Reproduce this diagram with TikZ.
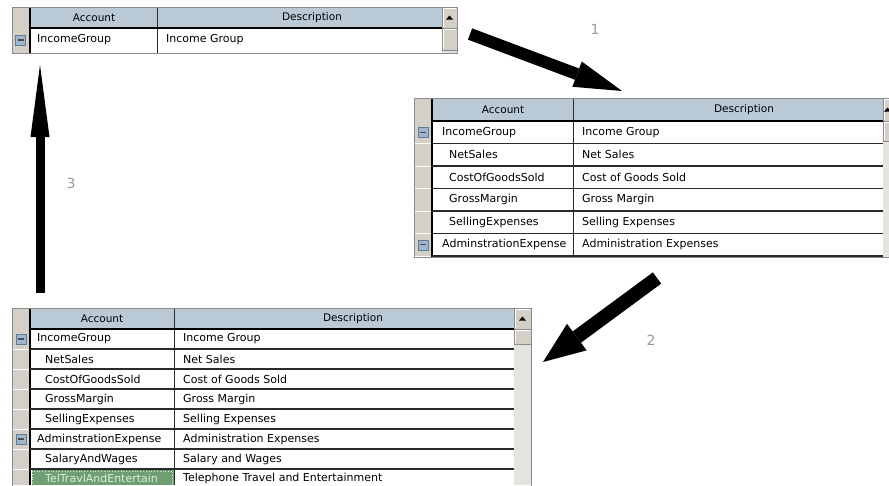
\documentclass[tikz,border=0pt]{standalone}
\usepackage{fontspec}
\setmainfont{DejaVu Sans}
\usetikzlibrary{arrows.meta}
\definecolor{wingray}{HTML}{D4D0C8}
\definecolor{hdrblue}{HTML}{B9C9D6}
\definecolor{trackgray}{HTML}{E4E3DE}
\definecolor{linedark}{HTML}{2A2A2A}
\definecolor{bordergray}{HTML}{8C8C8C}
\definecolor{selgreen}{HTML}{6F9E72}
\definecolor{seltext}{HTML}{DCEFDC}
\definecolor{iconfill}{HTML}{9FB6CC}
\definecolor{iconedge}{HTML}{5E7C99}
\definecolor{numgray}{HTML}{9A9A9A}
\tikzset{
  cellt/.style={anchor=west, inner sep=0pt, font=\fontsize{11}{13}\selectfont, text=black},
  hdrt/.style={anchor=center, inner sep=0pt, font=\fontsize{10.5}{12}\selectfont, text=black},
  numl/.style={inner sep=0pt, font=\fontsize{14}{16}\selectfont, text=numgray},
  bigarrow/.style={draw=black, line width=#1},
  btn/.style={fill=wingray, draw=bordergray, line width=0.8pt},
  rowline/.style={draw=linedark, line width=1.6pt},
  gutline/.style={draw=white, line width=0.8pt},
  minusbox/.style={draw=iconedge, fill=iconfill, minimum size=10pt, inner sep=0pt,
    path picture={\draw[line width=1.2pt, black!70]
      ([xshift=-3pt]path picture bounding box.center) -- ([xshift=3pt]path picture bounding box.center);}},
}
% #1 x0  #2 gutter end  #3 column divider  #4 desc right  #5 scroll right
% #6 top  #7 header bottom  #8 bottom  #9 thumb bottom
\newcommand\gridframe[9]{%
  \fill[white] (#1,#6) rectangle (#5,#8);
  \fill[hdrblue] (#2,#6) rectangle (#4,#7);
  \fill[wingray] (#1,#6) rectangle (#2,#8);
  \fill[trackgray] (#4,#7) rectangle (#5,#8);
  \draw[btn] (#4,#6) rectangle (#5,#7);
  \draw[btn] (#4,#7) rectangle (#5,#9);
  \draw[white, line width=0.8pt] (#4+1.5,#7-1.5) -- (#4+1.5,#6+1.5) -- (#5-1.5,#6+1.5);
  \draw[white, line width=0.8pt] (#4+1.5,#9-1.5) -- (#4+1.5,#7+1.5) -- (#5-1.5,#7+1.5);
  \fill[black] ({(#4+#5)/2-3.5},{(#6+#7)/2+2}) -- ({(#4+#5)/2+3.5},{(#6+#7)/2+2}) -- ({(#4+#5)/2},{(#6+#7)/2-2}) -- cycle;
  \draw[linedark, line width=0.9pt] (#3,#6) -- (#3,#8);
  \draw[black, line width=2.4pt] (#2,#6) -- (#2,#8);
  \draw[black, line width=1.8pt] (#2,#7) -- (#4,#7);
}
\begin{document}
\begin{tikzpicture}[x=1pt,y=-1pt]
\useasboundingbox (0,0) rectangle (889,485);
\fill[white] (0,0) rectangle (889,485);

% ---------------- Table 1 (top left) ----------------
\gridframe{12}{30}{157}{442}{457}{7}{28}{53}{50}
\draw[bordergray, line width=0.8pt] (12,7) rectangle (457,53);
\node[hdrt] (t1ha) at (94,18) {Account};
\node[hdrt] (t1hd) at (312,18) {Description};
\node[minusbox] (t1m1) at (20.5,40) {};
\node[cellt] (t1a1) at (37,40) {IncomeGroup};
\node[cellt] (t1d1) at (166,40) {Income Group};

% ---------------- Table 2 (right) ----------------
\gridframe{414}{432}{573}{883}{892}{98}{121}{257}{141}
\foreach \yy in {143.5,166,188.5,211,233.5,256}{
  \draw[rowline] (432,\yy) -- (883,\yy);
  \draw[gutline] (414,\yy) -- (431,\yy);
}
\draw[bordergray, line width=0.8pt] (892,98) -- (414,98) -- (414,257) -- (892,257);
\node[hdrt] (t2ha) at (503,110) {Account};
\node[hdrt] (t2hd) at (744,110) {Description};
\node[minusbox] (t2m1) at (423,132.3) {};
\node[minusbox] (t2m6) at (423,244.8) {};
\node[cellt] (t2a1) at (442,132.3) {IncomeGroup};
\node[cellt] (t2a2) at (449,154.8) {NetSales};
\node[cellt] (t2a3) at (449,177.3) {CostOfGoodsSold};
\node[cellt] (t2a4) at (449,199.8) {GrossMargin};
\node[cellt] (t2a5) at (449,222.3) {SellingExpenses};
\node[cellt] (t2a6) at (442,244.8) {AdminstrationExpense};
\node[cellt] (t2d1) at (582,132.3) {Income Group};
\node[cellt] (t2d2) at (582,154.8) {Net Sales};
\node[cellt] (t2d3) at (582,177.3) {Cost of Goods Sold};
\node[cellt] (t2d4) at (582,199.8) {Gross Margin};
\node[cellt] (t2d5) at (582,222.3) {Selling Expenses};
\node[cellt] (t2d6) at (582,244.8) {Administration Expenses};

% ---------------- Table 3 (bottom left) ----------------
\gridframe{12}{30}{174}{514}{531}{308}{329}{485}{344}
\fill[selgreen] (31.5,470) rectangle (173.5,485);
\draw[seltext, dotted, line width=0.8pt] (32.5,471) rectangle (172.5,486);
\foreach \yy in {349,369,389,409,429,449,469}{
  \draw[rowline] (30,\yy) -- (514,\yy);
  \draw[gutline] (12,\yy) -- (29,\yy);
}
\draw[bordergray, line width=0.8pt] (12,488) -- (12,308) -- (531,308) -- (531,488);
\node[hdrt] (t3ha) at (102,319) {Account};
\node[hdrt] (t3hd) at (353,319) {Description};
\node[minusbox] (t3m1) at (21,339) {};
\node[minusbox] (t3m6) at (21,439) {};
\node[cellt] (t3a1) at (37,339) {IncomeGroup};
\node[cellt] (t3a2) at (45,359) {NetSales};
\node[cellt] (t3a3) at (45,379) {CostOfGoodsSold};
\node[cellt] (t3a4) at (45,399) {GrossMargin};
\node[cellt] (t3a5) at (45,419) {SellingExpenses};
\node[cellt] (t3a6) at (37,439) {AdminstrationExpense};
\node[cellt] (t3a7) at (45,459) {SalaryAndWages};
\node[cellt, text=seltext] (t3a8) at (45,478) {TelTravlAndEntertain};
\node[cellt] (t3d1) at (183,339) {Income Group};
\node[cellt] (t3d2) at (183,359) {Net Sales};
\node[cellt] (t3d3) at (183,379) {Cost of Goods Sold};
\node[cellt] (t3d4) at (183,399) {Gross Margin};
\node[cellt] (t3d5) at (183,419) {Selling Expenses};
\node[cellt] (t3d6) at (183,439) {Administration Expenses};
\node[cellt] (t3d7) at (183,459) {Salary and Wages};
\node[cellt] (t3d8) at (183,478) {Telephone Travel and Entertainment};

% ---------------- Arrows ----------------
\coordinate (a1s) at (470,34);
\coordinate (a1e) at (622,91);
\coordinate (a2s) at (657,278);
\coordinate (a2e) at (543,362);
\coordinate (a3s) at (40,293);
\coordinate (a3e) at (40,65);
\draw[bigarrow=12pt, -{Triangle[length=48pt,width=27pt,line width=0pt]}] (a1s) -- (a1e);
\draw[bigarrow=14pt, -{Triangle[length=42pt,width=33pt,line width=0pt]}] (a2s) -- (a2e);
\draw[bigarrow=9pt, -{Triangle[length=72pt,width=19pt,line width=0pt]}] (a3s) -- (a3e);

\node[numl] (n1) at (595,29) {1};
\node[numl] (n2) at (651,340) {2};
\node[numl] (n3) at (71,183) {3};
\end{tikzpicture}
\end{document}
